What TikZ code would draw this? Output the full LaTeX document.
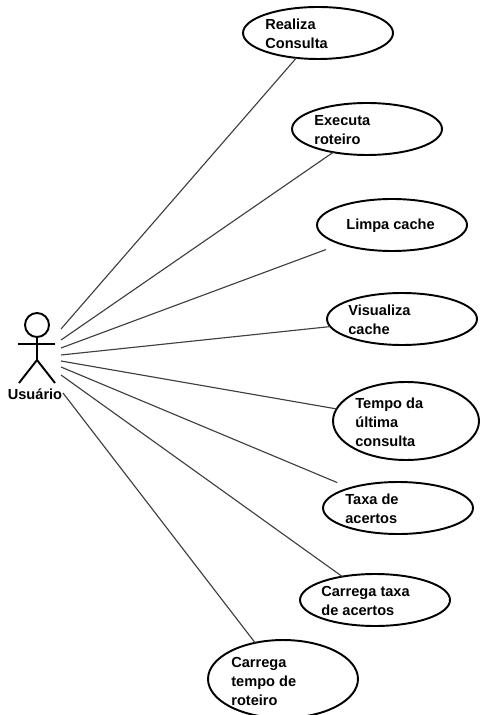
\documentclass[tikz,border=0pt]{standalone}
\usepackage{fontspec}
\setmainfont{Liberation Sans}
\usetikzlibrary{shapes.geometric}

\begin{document}
\begin{tikzpicture}[x=0.02cm,y=-0.02cm,
					base node/.style={ellipse,draw,line width=1.1pt,inner sep=0pt,outer sep=0pt,minimum width=3cm,minimum height=1.04cm},
					tall node/.style={base node,minimum height=1.56cm},
					txt/.style={anchor=west,align=left,inner sep=0pt,font=\fontsize{8.3}{10.8}\selectfont\bfseries},
					link/.style={draw=black!75,line width=0.65pt},
					stick/.style={draw,line width=1.1pt}]

				\useasboundingbox (0,0) rectangle (479,715);

				% actor
				\node[circle,stick,inner sep=0pt,minimum size=0.48cm] (head) at (37,325) {};
				\coordinate (hip) at (37,360);
				\coordinate (armL) at (18,344);
				\coordinate (armR) at (55,344);
				\coordinate (legL) at (19,383);
				\coordinate (legR) at (55,383);
				\node[txt,anchor=center] (user) at (35,394) {Usuário};
				\draw[stick] (head) -- (hip);
				\draw[stick] (armL) -- (armR);
				\draw[stick] (legL) -- (hip) -- (legR);

				% use cases
				\node[base node] (1) at (318,33) {};
				\node[base node] (2) at (367,129) {};
				\node[base node] (3) at (392,225) {};
				\node[base node] (4) at (402,319) {};
				\node[tall node,minimum width=2.92cm] (5) at (406,421) {};
				\node[base node] (6) at (398,508) {};
				\node[base node] (7) at (375,600) {};
				\node[tall node] (8) at (283,679) {};

				\node[txt] (t1) at (265,34) {Realiza\\Consulta};
				\node[txt] (t2) at (314,130) {Executa\\roteiro};
				\node[txt] (t3) at (346,226) {Limpa cache};
				\node[txt] (t4) at (348,320) {Visualiza\\cache};
				\node[txt] (t5) at (355,422) {Tempo da\\última\\consulta};
				\node[txt] (t6) at (345,509) {Taxa de\\acertos};
				\node[txt] (t7) at (321,601) {Carrega taxa\\de acertos};
				\node[txt] (t8) at (231,681) {Carrega\\tempo de\\roteiro};

				% free ends next to the actor
				\coordinate (a1) at (61,329);
				\coordinate (a2) at (61,340);
				\coordinate (a3) at (61,348);
				\coordinate (a4) at (61,355);
				\coordinate (a5) at (61,361);
				\coordinate (a6) at (61,367);
				\coordinate (a7) at (61,375);
				\coordinate (a8) at (63,393);

				\path[link]
				(a1) edge (1)
				(a2) edge (2)
				(a3) edge[shorten >=0.32cm] (3)
				(a4) edge (4)
				(a5) edge (5)
				(a6) edge[shorten >=0.28cm] (6)
				(a7) edge (7)
				(a8) edge (8);
			\end{tikzpicture}
\end{document}
